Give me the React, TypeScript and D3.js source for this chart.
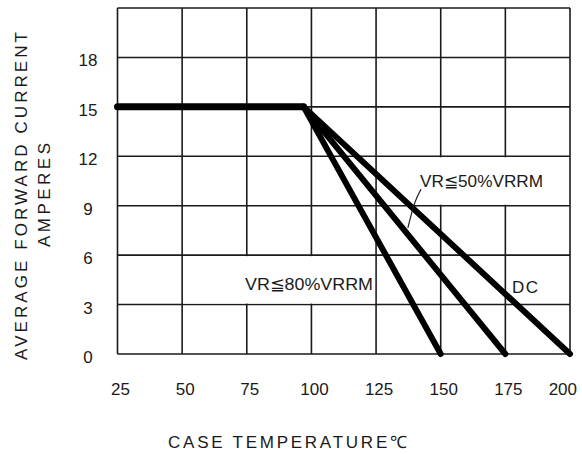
import React from 'react';
import * as d3 from 'd3';

// case temperature (°C) and forward current (A)
const tempTicks = [25, 50, 75, 100, 125, 150, 175, 200];
const ampTicks = [0, 3, 6, 9, 12, 15, 18];

const flatTemp = [25, 97];
const flatAmp = [15, 15];
const dcTemp = [97, 200];
const dcAmp = [15, 0];
const vr50Temp = [97, 175];
const vr50Amp = [15, 0];
const vr80Temp = [97, 150];
const vr80Amp = [15, 0];

const curves = [
    { name: 'flat', temp: flatTemp, amp: flatAmp },
    { name: 'dc', temp: dcTemp, amp: dcAmp },
    { name: 'vr50', temp: vr50Temp, amp: vr50Amp },
    { name: 'vr80', temp: vr80Temp, amp: vr80Amp }
];

const W = 582, H = 454;
const margin = { top: 8, right: 12, bottom: 100, left: 117.5 };
const font = '"Liberation Sans", Arial, sans-serif';
const ink = '#1a1a1a';

export default function App() {

    const x = d3.scaleLinear().domain([25, 200]).range([margin.left, W - margin.right]);
    const y = d3.scaleLinear().domain([0, 21]).range([H - margin.bottom, margin.top]);

    const line = d3.line<[number, number]>()
        .x(d => x(d[0]))
        .y(d => y(d[1]));

    const leader = d3.line<[number, number]>()
        .x(d => x(d[0]))
        .y(d => y(d[1]))
        .curve(d3.curveBasis);

    const gridY = [...ampTicks, 21];
    const last = tempTicks[tempTicks.length - 1];

    return <svg width={W} height={H} style={{ position: 'absolute', left: 0, top: 0, background: '#fff' }}>

        {/* grid */}
        <g stroke={ink} strokeWidth={1.6}>
            {tempTicks.map(t => <line key={'v' + t} x1={x(t)} x2={x(t)} y1={y(0)} y2={y(21)} />)}
            {gridY.map(a => <line key={'h' + a} x1={x(25)} x2={x(200)} y1={y(a)} y2={y(a)} />)}
        </g>

        {/* label boxes that hide the grid */}
        <rect x={x(50) + 1} y={y(6) + 1} width={x(125) - x(50) - 2} height={y(3) - y(6) - 2} fill="#fff" />
        <rect x={x(125) + 1} y={y(12) + 1} width={x(200) - x(125) - 2} height={y(9) - y(12) - 2} fill="#fff" />

        {/* derating curves */}
        <g fill="none" stroke="#000" strokeLinecap="round" strokeLinejoin="round">
            {curves.map(c => <path key={c.name}
                d={line(c.temp.map((t, i) => [t, c.amp[i]] as [number, number])) || ''}
                strokeWidth={c.name === 'flat' ? 7 : 6} />)}
        </g>

        {/* leader for 50% label */}
        <path d={leader([[142.4, 10.0], [139.9, 9.3], [137.3, 7.65]]) || ''} fill="none" stroke={ink} strokeWidth={1.2} />

        <g fontFamily={font} fill={ink}>
            {/* y ticks */}
            {ampTicks.map(a => <text key={'yt' + a} x={88} y={y(a) + 9} fontSize={17} textAnchor="middle">{a}</text>)}
            {/* x ticks */}
            {tempTicks.map(t => t === last
                ? <text key={'xt' + t} x={x(t) + 7} y={395} fontSize={17} textAnchor="end">{t}</text>
                : <text key={'xt' + t} x={x(t) + 3} y={395} fontSize={17} textAnchor="middle">{t}</text>)}

            <text x={x(74.3)} y={y(3.88)} fontSize={17} textLength={128} lengthAdjust="spacingAndGlyphs">VR≦80%VRRM</text>
            <text x={x(142)} y={y(10.14)} fontSize={17} textLength={123} lengthAdjust="spacingAndGlyphs">VR≦50%VRRM</text>
            <text x={x(177.6)} y={y(3.7)} fontSize={17} textLength={26} lengthAdjust="spacing">DC</text>

            <text x={168} y={448} fontSize={17} textLength={239} lengthAdjust="spacing">CASE TEMPERATURE℃</text>

            <text transform="translate(27,196) rotate(-90)" fontSize={17} textAnchor="middle" textLength={328} lengthAdjust="spacing">AVERAGE FORWARD CURRENT</text>
            <text transform="translate(49.5,195) rotate(-90)" fontSize={17} textAnchor="middle" textLength={104} lengthAdjust="spacing">AMPERES</text>
        </g>
    </svg>
}
